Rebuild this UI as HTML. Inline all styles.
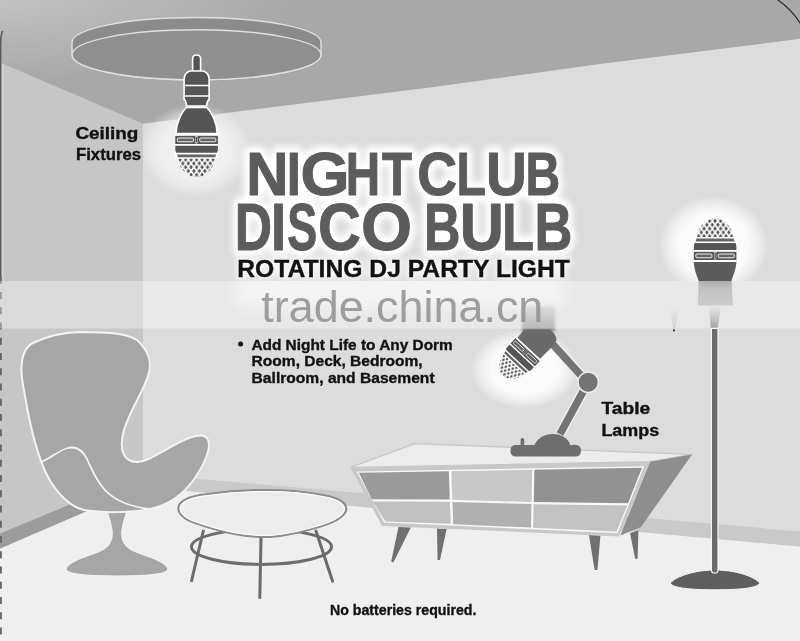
<!DOCTYPE html>
<html lang="en">
<head>
<meta charset="utf-8">
<title>Night Club Disco Bulb</title>
<style>
html,body{margin:0;padding:0;background:#a8a8a8;}
body{width:800px;height:641px;overflow:hidden;font-family:"Liberation Sans",sans-serif;}
svg{display:block;filter:grayscale(1);}
text{font-family:"Liberation Sans",sans-serif;}
.b{font-weight:bold;fill:#111;stroke:#111;stroke-width:0.35px;}
</style>
</head>
<body>
<svg width="800" height="641" viewBox="0 0 800 641">
<defs>
  <radialGradient id="ceilg" gradientUnits="userSpaceOnUse" cx="0" cy="0" r="1" gradientTransform="translate(-10,-8) scale(310,90)">
    <stop offset="0" stop-color="#c4c4c4"/>
    <stop offset="0.5" stop-color="#b6b6b6"/>
    <stop offset="1" stop-color="#a8a8a8"/>
  </radialGradient>
  <radialGradient id="glow">
    <stop offset="0" stop-color="#fff" stop-opacity="0.97"/>
    <stop offset="0.62" stop-color="#fff" stop-opacity="0.93"/>
    <stop offset="0.82" stop-color="#fff" stop-opacity="0.55"/>
    <stop offset="1" stop-color="#fff" stop-opacity="0"/>
  </radialGradient>
  <pattern id="dia" width="5.5" height="7.6" patternUnits="userSpaceOnUse" x="-2.75" y="-1.4">
    <rect width="5.5" height="7.6" fill="#fff"/>
    <path d="M0,-2.3 L1.8,0 L0,2.3 L-1.8,0Z M5.5,-2.3 L7.3,0 L5.5,2.3 L3.7,0Z M0,5.3 L1.8,7.6 L0,9.9 L-1.8,7.6Z M5.5,5.3 L7.3,7.6 L5.5,9.9 L3.7,7.6Z M2.75,1.5 L4.55,3.8 L2.75,6.1 L0.95,3.8Z" fill="#555"/>
  </pattern>
  <!-- bulb head: bands + faceted dome, pointing down. origin at centre of body bottom (y=0 == top of bands) -->
  <g id="head">
    <rect x="-21.5" y="-0.6" width="43" height="24" fill="#fff"/>
    <!-- slot band -->
    <rect x="-21.3" y="1.4" width="42.6" height="8.2" fill="#555"/>
    <rect x="-19.2" y="3.6" width="16" height="3.8" rx="1" fill="#666" stroke="#eee" stroke-width="1"/>
    <rect x="3.2" y="3.6" width="16" height="3.8" rx="1" fill="#666" stroke="#eee" stroke-width="1"/>
    <rect x="-0.9" y="2.2" width="1.8" height="6.6" fill="#444" stroke="#ddd" stroke-width="0.6"/>
    <!-- dark band -->
    <path d="M-21.3,11.3 H21.3 V15 Q21.3,17 20.3,18.4 H-20.3 Q-21.3,17 -21.3,15Z" fill="#555"/>
    <!-- thin band -->
    <path d="M-19.6,20 H19.6 L18.6,22.8 H-18.6Z" fill="#666"/>
    <!-- dome -->
    <path d="M-18.4,24.4 H18.4 C17.6,32 12.5,38.5 6,41.6 Q0,44 -6,41.6 C-12.5,38.5 -17.6,32 -18.4,24.4Z" fill="url(#dia)"/>
  </g>
  <!-- full ceiling bulb, origin at top of stem, axis pointing down -->
  <g id="bulbfull">
    <path d="M-4,17 V4 Q-4,0 0,0 Q4,0 4,4 V17Z" fill="#555" stroke="#fff" stroke-width="1.6"/>
    <path d="M-7,16 Q-12.5,18 -12.5,25 V44.5 Q-10.5,46 -10,51 H10 Q10.5,46 12.5,44.5 V25 Q12.5,18 7,16Z" fill="#555" stroke="#fff" stroke-width="1.6"/>
    <path d="M-13,30.5 H13 M-13,41 H13" stroke="#fff" stroke-width="1.5" fill="none"/>
    <path d="M-10,52.5 H10 C15,57 20.5,68 20.6,78.6 H-20.6 C-20.5,68 -15,57 -10,52.5Z" fill="#555" stroke="#fff" stroke-width="1.6"/>
    <use href="#head" transform="translate(0,79.4)"/>
  </g>
</defs>

<!-- ceiling -->
<rect x="0" y="0" width="800" height="641" fill="url(#ceilg)"/>
<!-- back wall -->
<polygon points="143,123.8 230,112.6 430,87.6 600,64 720,49 800,38.8 800,560 143,560" fill="#dcdcdc"/>
<!-- left wall -->
<polygon points="0,62.5 143,123.8 143,560 0,560" fill="#c6c6c6"/>
<!-- floor -->
<polygon points="0,548.4 143,487 800,546.5 800,641 0,641" fill="#efefef"/>
<!-- baseboards -->
<polygon points="0,533.6 143,474 143,487 0,548.4" fill="#9c9c9c"/>
<polygon points="143,474 800,531.5 800,546.5 143,487" fill="#c9c9c9"/>
<!-- left page edge -->
<path d="M2.6,31 Q0.6,35 0.6,46 V277" stroke="#5a5a5a" stroke-width="1.6" fill="none"/>
<path d="M3.2,64 V281" stroke="#d2d2d2" stroke-width="1.6" fill="none"/>
<path d="M0.9,276.8 V641" stroke="#666" stroke-width="1.9" stroke-dasharray="7,8.25" fill="none"/>
<!-- top right corner curve -->
<path d="M777.4,-0.5 C786,5.5 794,13 800.5,23.8" stroke="#222" stroke-width="1.1" fill="none"/>

<!-- ceiling fixture disc -->
<path d="M72,42.5 A124.5,25 0 0 1 321,42.5 V54.8 A124.5,25 0 0 1 72,54.8Z" fill="#8b8b8b" stroke="#e0e0e0" stroke-width="1.4"/>
<ellipse cx="196.5" cy="54.8" rx="124.5" ry="25" fill="#8f8f8f" stroke="#e0e0e0" stroke-width="1.4"/>

<!-- glows -->
<ellipse cx="195.5" cy="150" rx="56" ry="47" fill="url(#glow)" opacity="0.6"/>
<ellipse cx="713.5" cy="245" rx="55" ry="49" fill="url(#glow)" opacity="0.94" clip-path="url(#aboveband)"/>
<ellipse cx="524.5" cy="369" rx="54" ry="39.5" fill="url(#glow)" opacity="0.93" clip-path="url(#belowband2)"/>

<!-- ceiling bulb -->
<use href="#bulbfull" transform="translate(196.6,55)"/>

<!-- floor lamp -->
<g>
  <path d="M693.6,260.6 H736.6 C736,270 733,276 731.4,281.2 H698.8 C697,276 694,270 693.6,260.6Z" fill="#5c5c5c"/>
  <path d="M698.6,281 H731.6 L733,305.4 H698Z" fill="url(#ghost2)" filter="url(#blur3)"/>
  <use href="#head" transform="translate(715.1,261.4) scale(1,-1)"/>
  <polygon points="709,306 721,306 717.6,328.6 710.6,328.6" fill="url(#ghost3)"/>
  <polygon points="670,306 679.4,306 674.8,330 673.2,330" fill="url(#ghost3)" opacity="0.35"/>
  <circle cx="673.9" cy="330.6" r="1" fill="#222"/>
  <path d="M670.5,583.4 C672,579 690,570 715,570 C740,570 758,579 759.6,583.4 C757,588 740,589.8 715,589.8 C690,589.8 673,588 670.5,583.4Z" fill="#5e5e5e" stroke="#f8f8f8" stroke-width="1"/>
  <path d="M711.4,328.4 V570 Q711.4,573.2 714.7,573.2 Q718,573.2 718,570 V328.4Z" fill="#6a6a6a" stroke="#f4f4f4" stroke-width="1.2"/>
</g>

<!-- sideboard -->
<g>
  <!-- legs -->
  <polygon points="398.5,527 410.8,527.6 393.4,562.4 391.2,561.4" fill="#707070"/>
  <polygon points="437,528.6 446.6,529 440,560 437.6,560" fill="#707070"/>
  <polygon points="589,535 600.4,535.4 597.4,570 594.6,570" fill="#707070"/>
  <polygon points="630,533 638.4,530.4 637.6,558.8 635.2,558.8" fill="#707070"/>
  <!-- top -->
  <polygon points="350.5,467.4 414.9,443.6 692,454.4 650,461.8" fill="#ececec" stroke="#c8c8c8" stroke-width="1.4" stroke-linejoin="round"/>
  <!-- side -->
  <polygon points="650,461.8 692,454.4 641,527 620.4,535.6" fill="#8e8e8e"/>
  <!-- front frame -->
  <polygon points="350.5,467.4 650,461.8 619,536.4 382,526" fill="#c8c8c8"/>
  <polygon points="356.6,471.4 644.2,466.2 617.4,533.2 384.2,522.6" fill="#f8f8f8"/>
  <!-- drawers -->
  <polygon points="358.8,472.8 448.8,471.2 449.8,499.6 371.8,499.2" fill="#9a9a9a"/>
  <polygon points="451.4,471.2 532.2,469.8 531.6,502 452.2,499.8" fill="#c8c8c8"/>
  <polygon points="534.4,469.8 642,467.8 628,503.2 533.8,502" fill="#929292"/>
  <polygon points="372.8,501.4 449.8,501.8 450.8,523.8 385.4,521.4" fill="#c0c0c0"/>
  <polygon points="452.4,502 531.4,504 531,527.6 453.2,524.2" fill="#b0b0b0"/>
  <polygon points="533.6,504.2 627.2,505.6 616.4,531.6 533.2,527.8" fill="#c2c2c2"/>
</g>

<!-- table lamp -->
<g>
  <!-- ghost of shade inside watermark band -->
  <rect x="522" y="306" width="33" height="26" fill="url(#ghost)" filter="url(#blur2)"/>
  <!-- arms -->
  <path d="M553,344.5 L586,381" stroke="#f0f0f0" stroke-width="10.4" fill="none"/>
  <path d="M553,344.5 L586,381" stroke="#747474" stroke-width="7.6" fill="none"/>
  <path d="M585,388 L560,434" stroke="#f0f0f0" stroke-width="10.4" fill="none"/>
  <path d="M585,388 L560,434" stroke="#747474" stroke-width="7.6" fill="none"/>
  <circle cx="588.2" cy="382.3" r="10.2" fill="#747474" stroke="#f0f0f0" stroke-width="1.4"/>
  <!-- base -->
  <path d="M516,456.6 Q510.4,456.6 510.4,450.8 Q510.4,445 516,445 H520.6 V440 Q520.6,438 522.4,438 Q524.2,438 524.2,440 V445 H534.5 C537,438.5 544.5,434 553,434 C561.5,434 568.5,438.5 570.5,445.6 Q572.6,444.6 575.2,444.8 Q581,445.4 581,450.8 Q581,456.6 575.4,456.6Z" fill="#6e6e6e"/>
  <!-- head -->
  <g clip-path="url(#belowband)">
  <g transform="translate(528.4,348.7) rotate(43)">
    <path d="M-15.4,0 H15.4 L16.2,-20 Q16.4,-27 9,-28.4 L-10,-30 Q-17,-30 -17,-24Z" fill="#6a6a6a"/>
    <g transform="scale(0.78,0.87)"><use href="#head"/></g>
  </g>
  </g>
</g>

<!-- coffee table -->
<g>
  <g stroke="#6c6c6c" stroke-width="3" fill="none" stroke-linecap="round">
    <ellipse cx="261.5" cy="546.8" rx="70" ry="17.6"/>
    <path d="M203.3,531 L191.6,580.6"/>
    <path d="M261,538 L259.8,597.6"/>
    <path d="M316,531 L332.6,581.2"/>
  </g>
  <path id="ttop" d="M178.3,508.5 C178,501 190,496 205.6,494.3 C225,491.5 245,490 265,490 C287,490 308,492 324.4,495.4 C338,498 347,503 346.2,509.7 C345,517 330,524 312.5,528.7 C297,533 282,537 265,537 C248,537 232,534 217.5,530 C204,526 196,523.5 189,520.4 C182,517 178.5,513 178.3,508.5Z" fill="#ececec" stroke="#8c8c8c" stroke-width="2.2"/>
  <path d="M178.3,508.5 C178,501 190,496 205.6,494.3 C225,491.5 245,490 265,490 C287,490 308,492 324.4,495.4 C338,498 347,503 346.2,509.7 C345,517 330,524 312.5,528.7 C297,533 282,537 265,537 C248,537 232,534 217.5,530 C204,526 196,523.5 189,520.4 C182,517 178.5,513 178.3,508.5Z" transform="translate(262.3,513.5) scale(0.976,0.935) translate(-262.3,-513.5)" fill="none" stroke="#fbfbfb" stroke-width="1.3"/>
</g>

<!-- chair -->
<g>
  <path d="M107,511 C112,527 117,540 104,549 C92,556 68,560 66,569 C66,575 90,576 117,576 C144,576 168,575 168,569 C166,560 142,556 130,549 C117,540 122,527 127,511Z" fill="#a6a6a6" stroke="#f2f2f2" stroke-width="1.2"/>
  <path d="M21.5,372 C21,358 24,347 34,342.5 C46,337 62,332.5 79,332 C108,332 132,333 140,343 C150,354 152,364 148,376 C143,392 130,410 124,430 C119,447 122,462 137,462 C150,461 164,450 178,443 C190,437 202,432 207,438 C213,446 205,464 192,482 C182,495 168,505 150,509 C132,513 102,513 84,510 C70,507 56,492 48,477 C36,454 29,420 25,396 C23,386 22,379 21.5,372Z" fill="#a6a6a6" stroke="#f4f4f4" stroke-width="2"/>
  <path d="M41.5,462 C52,457 60,450 68,448 C76,446 82,449 87,459 C92,470 96,480 104,489 C114,500 130,507 150,509" fill="none" stroke="#f4f4f4" stroke-width="1.8"/>
</g>

<!-- small texts -->
<text class="b" x="75.4" y="138.5" font-size="16.4" textLength="63" lengthAdjust="spacingAndGlyphs">Ceiling</text>
<text class="b" x="76" y="160.2" font-size="16.4" textLength="65" lengthAdjust="spacingAndGlyphs">Fixtures</text>
<text class="b" x="601.4" y="413.8" font-size="16.4" textLength="48.8" lengthAdjust="spacingAndGlyphs">Table</text>
<text class="b" x="601.4" y="436.2" font-size="16.4" textLength="57.8" lengthAdjust="spacingAndGlyphs">Lamps</text>

<!-- title -->
<!--TITLE-START-->
<g font-weight="bold">
<g fill="#fff" stroke="#fff" stroke-width="13" stroke-linejoin="round" opacity="1" filter="url(#blur)">
<text transform="translate(246.30,195.10) scale(0.9557,1)" font-size="61.05">N</text>
<text transform="translate(286.71,195.10) scale(0.8302,1)" font-size="61.05">I</text>
<text transform="translate(300.42,195.10) scale(1.0317,1)" font-size="61.05">G</text>
<text transform="translate(345.81,195.10) scale(0.7802,1)" font-size="61.05">H</text>
<text transform="translate(381.95,195.10) scale(0.8067,1)" font-size="61.05">T</text>
<text transform="translate(417.24,195.10) scale(0.9020,1)" font-size="61.05">C</text>
<text transform="translate(456.58,195.10) scale(0.7884,1)" font-size="61.05">L</text>
<text transform="translate(486.10,195.10) scale(0.9266,1)" font-size="61.05">U</text>
<text transform="translate(525.49,195.10) scale(0.7870,1)" font-size="61.05">B</text>
<text transform="translate(234.74,250.00) scale(0.7850,1)" font-size="65.84">D</text>
<text transform="translate(271.08,250.00) scale(0.8224,1)" font-size="65.84">I</text>
<text transform="translate(287.31,250.00) scale(0.6819,1)" font-size="65.84">S</text>
<text transform="translate(318.07,250.00) scale(0.9013,1)" font-size="65.84">C</text>
<text transform="translate(360.90,250.00) scale(0.9989,1)" font-size="65.84">O</text>
<text transform="translate(424.02,250.00) scale(0.7670,1)" font-size="65.84">B</text>
<text transform="translate(459.83,250.00) scale(0.9273,1)" font-size="65.84">U</text>
<text transform="translate(501.98,250.00) scale(0.7990,1)" font-size="65.84">L</text>
<text transform="translate(534.49,250.00) scale(0.7969,1)" font-size="65.84">B</text>
</g>
<g fill="#5c5c5c" stroke="#5c5c5c" stroke-width="1" stroke-linejoin="round">
<text transform="translate(246.30,195.10) scale(0.9557,1)" font-size="61.05">N</text>
<text transform="translate(286.71,195.10) scale(0.8302,1)" font-size="61.05">I</text>
<text transform="translate(300.42,195.10) scale(1.0317,1)" font-size="61.05">G</text>
<text transform="translate(345.81,195.10) scale(0.7802,1)" font-size="61.05">H</text>
<text transform="translate(381.95,195.10) scale(0.8067,1)" font-size="61.05">T</text>
<text transform="translate(417.24,195.10) scale(0.9020,1)" font-size="61.05">C</text>
<text transform="translate(456.58,195.10) scale(0.7884,1)" font-size="61.05">L</text>
<text transform="translate(486.10,195.10) scale(0.9266,1)" font-size="61.05">U</text>
<text transform="translate(525.49,195.10) scale(0.7870,1)" font-size="61.05">B</text>
<text transform="translate(234.74,250.00) scale(0.7850,1)" font-size="65.84">D</text>
<text transform="translate(271.08,250.00) scale(0.8224,1)" font-size="65.84">I</text>
<text transform="translate(287.31,250.00) scale(0.6819,1)" font-size="65.84">S</text>
<text transform="translate(318.07,250.00) scale(0.9013,1)" font-size="65.84">C</text>
<text transform="translate(360.90,250.00) scale(0.9989,1)" font-size="65.84">O</text>
<text transform="translate(424.02,250.00) scale(0.7670,1)" font-size="65.84">B</text>
<text transform="translate(459.83,250.00) scale(0.9273,1)" font-size="65.84">U</text>
<text transform="translate(501.98,250.00) scale(0.7990,1)" font-size="65.84">L</text>
<text transform="translate(534.49,250.00) scale(0.7969,1)" font-size="65.84">B</text>
</g>
</g>
<!--TITLE-END-->
<g clip-path="url(#aboveband)"><text x="237.3" y="276.9" font-size="24.5" font-weight="bold" fill="#fff" stroke="#fff" stroke-width="5" opacity="0.8" filter="url(#blur)" textLength="332.6" lengthAdjust="spacingAndGlyphs">ROTATING DJ PARTY LIGHT</text></g>
<text class="b" x="237.3" y="276.9" font-size="24.5" textLength="332.6" lengthAdjust="spacingAndGlyphs">ROTATING DJ PARTY LIGHT</text>

<!-- watermark band -->
<rect x="0" y="281" width="800" height="47.6" fill="#fff" opacity="0.35"/>
<g clip-path="url(#inband)"><rect x="235" y="274" width="330" height="34" fill="#fff" opacity="0.5" filter="url(#blur4)"/></g>
<text x="261.3" y="322.2" font-size="44.7" fill="#8c8c8c" opacity="0.82" textLength="282" lengthAdjust="spacingAndGlyphs">trade.china.cn</text>

<!-- bullet text -->
<circle cx="240.6" cy="344" r="2.5" fill="#111"/>
<text class="b" x="251.4" y="350" font-size="15.1" textLength="201.4" lengthAdjust="spacingAndGlyphs">Add Night Life to Any Dorm</text>
<text class="b" x="251.6" y="366.4" font-size="15.1" textLength="171" lengthAdjust="spacingAndGlyphs">Room, Deck, Bedroom,</text>
<text class="b" x="251.6" y="382.6" font-size="15.1" textLength="183" lengthAdjust="spacingAndGlyphs">Ballroom, and Basement</text>

<text class="b" x="330" y="615.2" font-size="14.8" textLength="146.4" lengthAdjust="spacingAndGlyphs">No batteries required.</text>

<defs>
  <filter id="blur2" x="-30%" y="-30%" width="160%" height="160%"><feGaussianBlur stdDeviation="1.6"/></filter>
  <linearGradient id="ghost" x1="0" y1="0" x2="0" y2="1"><stop offset="0" stop-color="#8a8a8a" stop-opacity="0.45"/><stop offset="0.5" stop-color="#888" stop-opacity="0.6"/><stop offset="1" stop-color="#7c7c7c" stop-opacity="0.85"/></linearGradient>
  <clipPath id="aboveband"><rect x="0" y="0" width="800" height="281"/></clipPath>
  <clipPath id="belowband2"><rect x="0" y="328.6" width="800" height="320"/></clipPath>
  <clipPath id="inband"><rect x="0" y="281" width="800" height="47.6"/></clipPath>
  <filter id="blur4" x="-10%" y="-60%" width="120%" height="220%"><feGaussianBlur stdDeviation="7"/></filter>
  <clipPath id="belowband"><rect x="0" y="329.5" width="800" height="320"/></clipPath>
  <filter id="blur3" x="-30%" y="-30%" width="160%" height="160%"><feGaussianBlur stdDeviation="0.7"/></filter>
  <linearGradient id="ghost2" x1="0" y1="0" x2="0" y2="1"><stop offset="0" stop-color="#6c6c6c" stop-opacity="0.8"/><stop offset="0.35" stop-color="#808080" stop-opacity="0.62"/><stop offset="1" stop-color="#8c8c8c" stop-opacity="0.55"/></linearGradient>
  <linearGradient id="ghost3" x1="0" y1="0" x2="0" y2="1"><stop offset="0" stop-color="#777" stop-opacity="0"/><stop offset="1" stop-color="#666" stop-opacity="0.9"/></linearGradient>
  <filter id="blur" x="-20%" y="-40%" width="140%" height="180%"><feGaussianBlur stdDeviation="3.2"/></filter>
</defs>
</svg>
</body>
</html>
